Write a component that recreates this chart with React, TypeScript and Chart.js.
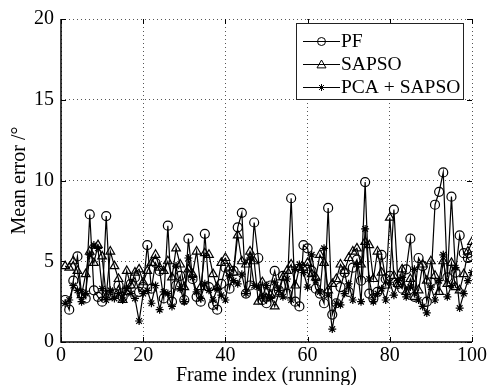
import React, { useEffect, useRef } from "react";
import { Chart, registerables } from "chart.js";

Chart.register(...registerables);

const seriesNames = ["PF", "SAPSO", "PCA + SAPSO"];
const xTicks = [0, 20, 40, 60, 80, 100];
const yTicks = [0, 5, 10, 15, 20];

const pfValues = [
  2.6, 2.0, 3.8, 5.3, 3.0, 2.7, 7.9, 3.2, 2.8, 2.5,
  7.8, 2.9, 3.0, 3.5, 2.8, 3.2, 3.6, 4.0, 3.1, 3.4,
  6.0, 3.3, 4.9, 4.4, 2.7, 7.2, 2.5, 3.5, 4.1, 2.6,
  6.4, 3.9, 2.8, 2.5, 6.7, 3.4, 2.3, 2.0, 3.6, 4.6,
  3.3, 4.4, 7.1, 8.0, 3.0, 3.5, 7.4, 5.2, 2.6, 2.4,
  3.5, 4.4, 3.2, 4.1, 3.0, 8.9, 2.5, 2.2, 6.0, 5.8,
  4.4, 3.3, 3.0, 2.4, 8.3, 1.7, 2.4, 3.4, 4.3, 3.1,
  4.6, 5.1, 3.8, 9.9, 3.0, 2.7, 3.1, 5.4, 3.9, 4.1,
  8.2, 3.6, 3.3, 4.5, 6.4, 2.8, 5.2, 4.7, 2.5, 3.7,
  8.5, 9.3, 10.5, 4.0, 9.0, 4.3, 6.6, 5.5, 5.2, 5.3,
];

const sapsoValues = [
  4.7, 4.6, 5.0, 4.4, 2.9, 4.2, 5.6, 4.9, 6.0, 5.3,
  2.8, 5.6, 4.7, 3.9, 2.6, 4.4, 3.5, 4.3, 4.5, 3.7,
  4.4, 4.9, 5.4, 4.6, 4.4, 5.0, 4.0, 5.8, 4.8, 3.4,
  4.5, 4.2, 5.6, 3.4, 5.5, 5.4, 4.2, 3.4, 4.9, 5.2,
  4.6, 4.3, 6.6, 5.0, 4.8, 5.6, 5.0, 2.5, 3.7, 2.7,
  2.9, 2.2, 3.0, 4.0, 4.4, 4.8, 3.5, 4.6, 4.6, 4.9,
  4.2, 4.0, 5.4, 4.9, 3.2, 3.6, 3.9, 4.8, 4.4, 5.2,
  5.6, 5.8, 4.8, 6.2, 6.0, 3.9, 5.6, 4.3, 3.5, 7.7,
  4.1, 3.6, 4.5, 3.1, 3.9, 2.8, 3.2, 4.8, 3.8, 5.0,
  4.1, 3.1, 5.0, 3.6, 4.9, 3.4, 3.2, 4.2, 5.6, 6.2,
];

const pcaSapsoValues = [
  2.4, 2.6, 3.5, 3.2, 2.5, 3.0, 5.4, 6.0, 5.8, 3.3,
  2.6, 3.2, 2.7, 3.0, 2.6, 3.3, 3.0, 2.7, 1.3, 3.0,
  3.2, 2.4, 3.5, 2.0, 3.1, 3.0, 2.2, 4.7, 3.3, 2.5,
  5.2, 4.0, 3.1, 2.7, 3.6, 3.2, 2.6, 3.3, 2.9, 2.6,
  4.1, 3.8, 3.6, 4.2, 3.0, 5.2, 3.5, 3.4, 2.8, 3.5,
  2.7, 3.7, 3.2, 2.8, 3.9, 2.6, 4.5, 4.8, 4.3, 3.4,
  5.4, 3.8, 3.1, 5.8, 2.9, 0.8, 2.4, 2.3, 3.0, 3.6,
  2.6, 4.8, 2.5, 7.0, 3.9, 2.5, 3.0, 3.3, 2.6, 3.7,
  2.9, 3.8, 4.0, 2.8, 3.4, 4.5, 2.6, 2.2, 1.8, 3.4,
  2.6, 3.8, 5.4, 2.8, 3.5, 4.6, 2.1, 3.0, 3.8, 4.3,
];

const FONT = "'Liberation Serif', 'Times New Roman', serif";
const markerStyles = ["circle", "triangle", "star"];
const markerRadii = [4.5, 5, 4];

function drawMarker(ctx: CanvasRenderingContext2D, style: string, x: number, y: number, r: number) {
  ctx.beginPath();
  if (style === "circle") {
    ctx.arc(x, y, r, 0, Math.PI * 2);
  } else if (style === "triangle") {
    const h = r * 1.5;
    ctx.moveTo(x, y - r);
    ctx.lineTo(x + r * 0.866 * 1.15, y + h * 0.5);
    ctx.lineTo(x - r * 0.866 * 1.15, y + h * 0.5);
    ctx.closePath();
  } else {
    for (let k = 0; k < 4; k++) {
      const a = (k * Math.PI) / 4;
      ctx.moveTo(x - Math.cos(a) * r, y - Math.sin(a) * r);
      ctx.lineTo(x + Math.cos(a) * r, y + Math.sin(a) * r);
    }
  }
  ctx.stroke();
}

const frameTicksPlugin = {
  id: "frameTicks",
  afterDatasetsDraw(chart: any) {
    const { ctx, chartArea, scales } = chart;
    const { left, right, top, bottom } = chartArea;
    ctx.save();
    ctx.strokeStyle = "#000";
    ctx.lineWidth = 1;
    const len = 5;
    xTicks.forEach((v) => {
      const px = Math.round(scales.x.getPixelForValue(v)) + 0.5;
      ctx.beginPath();
      ctx.moveTo(px, bottom);
      ctx.lineTo(px, bottom - len);
      ctx.moveTo(px, top);
      ctx.lineTo(px, top + len);
      ctx.stroke();
    });
    yTicks.forEach((v) => {
      const py = Math.round(scales.y.getPixelForValue(v)) + 0.5;
      ctx.beginPath();
      ctx.moveTo(left, py);
      ctx.lineTo(left + len, py);
      ctx.moveTo(right, py);
      ctx.lineTo(right - len, py);
      ctx.stroke();
    });
    ctx.lineWidth = 1.5;
    ctx.beginPath();
    ctx.moveTo(left, top);
    ctx.lineTo(left, bottom);
    ctx.lineTo(right, bottom);
    ctx.stroke();

    const bx = 296, by = 23, bw = 167, bh = 76;
    ctx.fillStyle = "#fff";
    ctx.fillRect(bx, by, bw, bh);
    ctx.lineWidth = 1;
    ctx.strokeStyle = "#222";
    ctx.strokeRect(bx + 0.5, by + 0.5, bw, bh);
    const rows = [41, 64, 87];
    ctx.font = `19.5px ${FONT}`;
    ctx.textBaseline = "middle";
    ctx.textAlign = "left";
    seriesNames.forEach((name, i) => {
      const y = rows[i] + 0.5;
      ctx.strokeStyle = "#000";
      ctx.lineWidth = 1;
      ctx.beginPath();
      ctx.moveTo(303, y);
      ctx.lineTo(340, y);
      ctx.stroke();
      drawMarker(ctx, markerStyles[i], 321.5, y, markerRadii[i] - 0.5);
      ctx.fillStyle = "#000";
      ctx.fillText(name, 341, rows[i] + 1);
    });
    ctx.restore();
  },
};

export default function App() {
  const canvasRef = useRef<HTMLCanvasElement | null>(null);

  useEffect(() => {
    if (!canvasRef.current) return;
    const toPoints = (vals: number[]) => vals.map((v, i) => ({ x: i + 1, y: v }));
    const allSeries = [pfValues, sapsoValues, pcaSapsoValues];
    const chart = new Chart(canvasRef.current, {
      type: "line",
      data: {
        datasets: allSeries.map((vals, i) => ({
          label: seriesNames[i],
          data: toPoints(vals),
          borderColor: "#000",
          borderWidth: 1.2,
          pointStyle: markerStyles[i] as any,
          pointRadius: markerRadii[i],
          pointBorderColor: "#000",
          pointBorderWidth: 1.2,
          pointBackgroundColor: "rgba(0,0,0,0)",
          tension: 0,
          fill: false,
        })),
      },
      options: {
        animation: false,
        responsive: false,
        maintainAspectRatio: false,
        layout: { padding: { left: 0, top: 18, right: 13, bottom: 0 } },
        plugins: {
          legend: { display: false },
          tooltip: { enabled: false },
        },
        scales: {
          x: {
            type: "linear",
            min: 0,
            max: 100,
            afterFit: (s: any) => {
              s.height = 43;
            },
            afterBuildTicks: (s: any) => {
              s.ticks = xTicks.map((v) => ({ value: v }));
            },
            ticks: {
              color: "#000",
              font: { family: FONT, size: 20 },
              padding: 2,
              maxRotation: 0,
            },
            grid: {
              color: "#555",
              lineWidth: 1,
              drawTicks: false,
              tickLength: 0,
            },
            border: { display: false, dash: [1, 3] },
            title: {
              display: true,
              text: "Frame index (running)",
              color: "#000",
              font: { family: FONT, size: 20 },
              padding: { top: 0, bottom: -3 },
            },
          } as any,
          y: {
            type: "linear",
            min: 0,
            max: 20,
            afterFit: (s: any) => {
              s.width = 61;
            },
            afterBuildTicks: (s: any) => {
              s.ticks = yTicks.map((v) => ({ value: v }));
            },
            ticks: {
              color: "#000",
              font: { family: FONT, size: 20 },
              padding: 7,
            },
            grid: {
              color: "#555",
              lineWidth: 1,
              drawTicks: false,
              tickLength: 0,
            },
            border: { display: false, dash: [1, 3] },
            title: {
              display: true,
              text: "Mean error /°",
              color: "#000",
              font: { family: FONT, size: 20 },
              padding: { top: 8, bottom: 0 },
            },
          } as any,
        },
      },
      plugins: [frameTicksPlugin],
    });
    return () => chart.destroy();
  }, []);

  return (
    <div style={{ position: "fixed", left: 0, top: 0, width: 489, height: 385, background: "#fff" }}>
      <canvas ref={canvasRef} width={489} height={385} style={{ display: "block" }} />
    </div>
  );
}
